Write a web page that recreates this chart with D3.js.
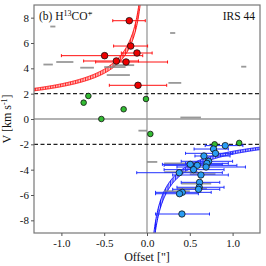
<!DOCTYPE html>
<html>
<head>
<meta charset="utf-8">
<script src="https://cdn.jsdelivr.net/npm/d3@7"></script>
<style>
  body { margin: 0; background: #fff; }
  svg { display: block; font-family: "Liberation Serif", "DejaVu Serif", serif; }
</style>
</head>
<body>
<div id="chart"></div>
<script>
// red-shifted points (offset, velocity, error bar low/high)
const redOff = [-0.207, -0.19, -0.117, -0.495, -0.358, -0.245, -0.105];
const redV   = [7.76, 5.76, 5.21, 5.0, 4.58, 4.5, 2.66];
const redLo  = [-0.40, -0.39, -0.30, -1.0, -0.74, -0.60, -0.44];
const redHi  = [-0.02, 0.007, 0.06, -0.05, -0.10, 0.24, 0.23];

// green points (no error bars)
const greenOff = [-0.685, -0.74, -0.533, -0.012, -0.273, 0.039, 0.79, 1.077];
const greenV   = [1.82, 1.29, 0.0, 1.58, 0.77, -1.18, -2.0, -1.89];

// blue-shifted points
const blueOff = [0.914, 0.777, 0.80, 0.665, 0.72, 0.70, 0.505, 0.587, 0.69, 0.544, 0.377, 0.63, 0.614, 0.61, 0.602, 0.412, 0.38, 0.408];
const blueV   = [-2.1, -2.37, -2.71, -2.92, -3.34, -3.5, -3.58, -3.66, -3.79, -4.0, -4.24, -4.42, -5.0, -5.39, -5.55, -5.79, -5.9, -7.5];
const blueLo  = [0.68, 0.55, 0.45, 0.56, 0.40, 0.45, 0.18, 0.20, 0.35, 0.20, -0.12, 0.30, 0.40, 0.35, 0.30, 0.10, 0.10, 0.10];
const blueHi  = [1.12, 0.95, 1.00, 0.97, 1.00, 0.95, 0.88, 1.05, 1.15, 0.90, 0.88, 0.95, 0.85, 0.90, 0.85, 0.75, 0.60, 0.73];

// grey error bars without markers
const grayV  = [8.35, 7.3, 4.3, 4.5, 4.05, 3.47, 4.1, 4.25, 6.79, 4.13, 2.85, 0.12, -0.92, -3.39, -3.5, -4.2, -4.35, -5.1, -5.5, -5.7];
const grayLo = [-0.68, -1.13, -1.21, -1.06, -0.78, -0.47, -0.50, -0.40, 0.27, 1.10, 0.25, 0.39, -0.10, 0.0, 0.20, 0.20, 0.50, 0.40, 0.35, 0.20];
const grayHi = [-0.64, -1.07, -1.10, -0.86, -0.62, -0.20, -0.25, -0.15, 0.33, 1.16, 0.40, 0.63, 0.0, 0.12, 0.60, 0.60, 0.80, 0.75, 0.70, 0.50];

const xTicks = [-1.0, -0.5, 0.0, 0.5, 1.0];
const yTicks = [-8, -6, -4, -2, 0, 2, 4, 6, 8];

// Keplerian-like curves v = a / sqrt(|x|), band between two constants
const curveA = [2.55, 2.78];

const W = 266, H = 266;
const m = { left: 34, right: 6, top: 5, bottom: 33 };

const svg = d3.select("#chart").append("svg").attr("width", W).attr("height", H);

const x = d3.scaleLinear().domain([-1.32, 1.32]).range([m.left, W - m.right]);
const y = d3.scaleLinear().domain([-9, 9]).range([H - m.bottom, m.top]);

const defs = svg.append("defs");
defs.append("clipPath").attr("id", "clip")
  .append("rect").attr("x", m.left).attr("y", m.top)
  .attr("width", W - m.left - m.right).attr("height", H - m.top - m.bottom);

// hatch patterns for the curve bands
function hatch(id, col) {
  const p = defs.append("pattern").attr("id", id).attr("patternUnits", "userSpaceOnUse")
    .attr("width", 2.5).attr("height", 2.5);
  p.append("rect").attr("width", 2.5).attr("height", 2.5).attr("fill", col).attr("opacity", 0.25);
  p.append("rect").attr("width", 1).attr("height", 2.5).attr("fill", col).attr("opacity", 0.8);
}
hatch("hr", "#ff0000");
hatch("hb", "#0000ff");

const plot = svg.append("g").attr("clip-path", "url(#clip)");

// zero lines
plot.append("line").attr("x1", x(0)).attr("x2", x(0)).attr("y1", m.top).attr("y2", H - m.bottom)
  .attr("stroke", "#999").attr("stroke-width", 1.3);
plot.append("line").attr("x1", m.left).attr("x2", W - m.right).attr("y1", y(0)).attr("y2", y(0))
  .attr("stroke", "#999").attr("stroke-width", 1.3);

// dashed lines at +-2
[2, -2].forEach(v => {
  plot.append("line").attr("x1", m.left).attr("x2", W - m.right).attr("y1", y(v)).attr("y2", y(v))
    .attr("stroke", "#222").attr("stroke-width", 1.2).attr("stroke-dasharray", "4,2.5");
});

// curve bands
const xsNeg = d3.range(-1.32, -0.03, 0.005);
const xsPos = xsNeg.map(d => -d);
function band(xs, sign, fillId, col) {
  const area = d3.area()
    .x(d => x(d))
    .y0(d => y(sign * curveA[0] / Math.sqrt(Math.abs(d))))
    .y1(d => y(sign * curveA[1] / Math.sqrt(Math.abs(d))));
  plot.append("path").datum(xs).attr("d", area).attr("fill", `url(#${fillId})`)
    .attr("stroke", col).attr("stroke-width", 0.9);
}
band(xsNeg, 1, "hr", "#ff0000");
band(xsPos, -1, "hb", "#0000ff");

// grey bars
plot.selectAll(".gray").data(grayV).enter().append("line")
  .attr("x1", (d, i) => x(grayLo[i])).attr("x2", (d, i) => x(grayHi[i]))
  .attr("y1", d => y(d)).attr("y2", d => y(d))
  .attr("stroke", "#888").attr("stroke-width", 1.8).attr("opacity", 0.85);

// error bars with caps
function errBars(off, v, lo, hi, col) {
  const g = plot.append("g");
  v.forEach((d, i) => {
    g.append("line").attr("x1", x(lo[i])).attr("x2", x(hi[i])).attr("y1", y(d)).attr("y2", y(d))
      .attr("stroke", col).attr("stroke-width", 1);
    [lo[i], hi[i]].forEach(e => {
      g.append("line").attr("x1", x(e)).attr("x2", x(e)).attr("y1", y(d) - 1.5).attr("y2", y(d) + 1.5)
        .attr("stroke", col).attr("stroke-width", 1);
    });
  });
}
errBars(redOff, redV, redLo, redHi, "#ff1010");
errBars(blueOff, blueV, blueLo, blueHi, "#2030ff");

function dots(off, v, col, r) {
  plot.append("g").selectAll("circle").data(v).enter().append("circle")
    .attr("cx", (d, i) => x(off[i])).attr("cy", d => y(d)).attr("r", r)
    .attr("fill", col).attr("stroke", "#111").attr("stroke-width", 0.8);
}
dots(greenOff, greenV, "#33bb33", 2.8);
dots(redOff, redV, "#ee0000", 3.3);
dots(blueOff, blueV, "#2a9df4", 3.2);

// frame
svg.append("rect").attr("x", m.left).attr("y", m.top)
  .attr("width", W - m.left - m.right).attr("height", H - m.top - m.bottom)
  .attr("fill", "none").attr("stroke", "#777").attr("stroke-width", 1.2);

const fmt = d => (d < 0 ? "-" : "") + Math.abs(d).toFixed(1);
const xAxis = svg.append("g").attr("transform", `translate(0,${H - m.bottom})`)
  .call(d3.axisBottom(x).tickValues(xTicks).tickFormat(fmt).tickSize(3).tickPadding(3));
const yAxis = svg.append("g").attr("transform", `translate(${m.left},0)`)
  .call(d3.axisLeft(y).tickValues(yTicks).tickFormat(d => (d < 0 ? "-" : "") + Math.abs(d)).tickSize(3).tickPadding(2));
[xAxis, yAxis].forEach(a => {
  a.attr("font-family", "Liberation Serif, serif").attr("font-size", 11);
  a.select(".domain").remove();
  a.selectAll(".tick line").attr("stroke", "#555");
  a.selectAll("text").attr("fill", "#111");
});

// labels
svg.append("text").attr("x", x(0)).attr("y", 261).attr("text-anchor", "middle")
  .attr("font-size", 12).attr("fill", "#111").text("Offset [\"]");
const yl = svg.append("text").attr("transform", `translate(11,${y(0)}) rotate(-90)`)
  .attr("text-anchor", "middle").attr("font-size", 12).attr("fill", "#111");
yl.append("tspan").text("V [km s");
yl.append("tspan").attr("dy", -4).attr("font-size", 8).text("-1");
yl.append("tspan").attr("dy", 4).text("]");

const t = svg.append("text").attr("x", 39).attr("y", 20).attr("font-size", 11.5).attr("fill", "#111");
t.append("tspan").text("(b) H");
t.append("tspan").attr("dy", -4).attr("font-size", 8).text("13");
t.append("tspan").attr("dy", 4).text("CO");
t.append("tspan").attr("dy", -4).attr("font-size", 8).text("+");

svg.append("text").attr("x", 255).attr("y", 20).attr("text-anchor", "end")
  .attr("font-size", 11.5).attr("fill", "#111").text("IRS 44");
</script>
</body>
</html>
